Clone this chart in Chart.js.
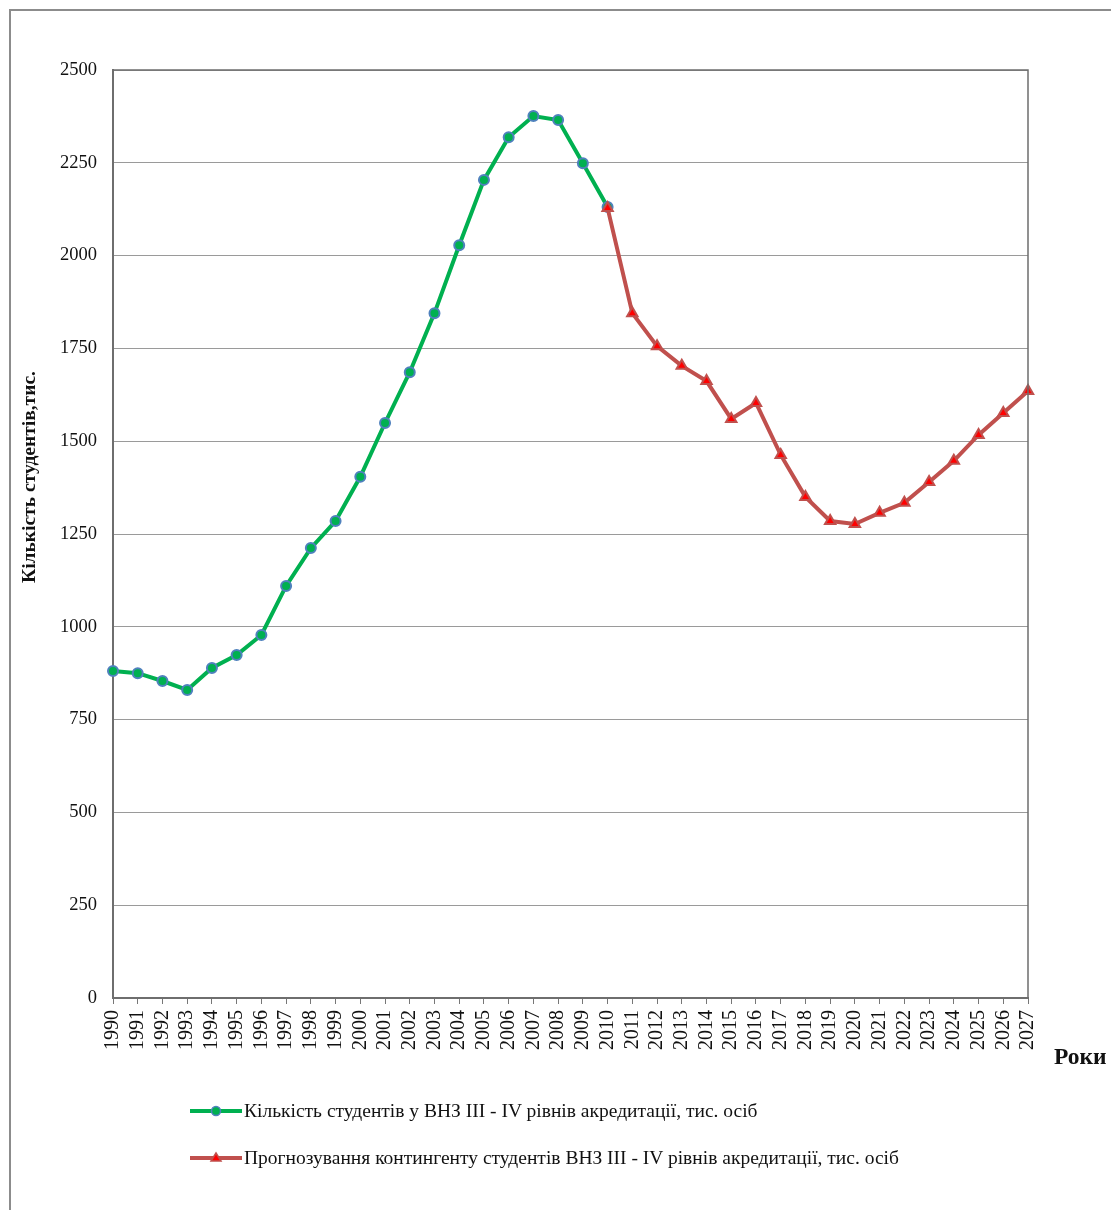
<!DOCTYPE html>
<html><head><meta charset="utf-8">
<script src="https://cdn.jsdelivr.net/npm/chart.js@4/dist/chart.umd.min.js"></script>
<style>
html,body{margin:0;padding:0;background:#fff;width:1111px;height:1210px;overflow:hidden;}
#frame{position:absolute;left:9px;top:9px;width:1130px;height:1230px;border:2px solid #8c8c8c;box-sizing:border-box;}
#c{position:absolute;left:0;top:0;}
.leg{position:absolute;left:190px;font-family:"Liberation Serif","Times New Roman",serif;font-size:19.5px;color:#111;display:flex;align-items:center;white-space:nowrap;}
.leg svg{margin-right:2px;}
</style></head><body>
<div id="frame"></div>
<canvas id="c" width="1111" height="1210"></canvas>
<div class="leg" style="top:1100px"><svg width="52" height="14"><line x1="0" y1="7" x2="52" y2="7" stroke="#00b050" stroke-width="4"/><circle cx="26" cy="7" r="4.5" fill="#00b050" stroke="#4f81bd" stroke-width="1.5"/></svg><span id="l1"></span></div>
<div class="leg" style="top:1147px"><svg width="52" height="14"><line x1="0" y1="7" x2="52" y2="7" stroke="#c0504d" stroke-width="4"/><polygon points="26,2 31,10 21,10" fill="#ff0000" stroke="#c0504d" stroke-width="1.5"/></svg><span id="l2"></span></div>
<script>
const years = ["1990","1991","1992","1993","1994","1995","1996","1997","1998","1999","2000","2001","2002","2003","2004","2005","2006","2007","2008","2009","2010","2011","2012","2013","2014","2015","2016","2017","2018","2019","2020","2021","2022","2023","2024","2025","2026","2027"];
const actual = [881,875,854,830,889,924,978,1110,1212,1285,1404,1549,1686,1845,2028,2204,2319,2376,2365,2249,2131];
const forecast = [2128,1845,1756,1703,1662,1560,1603,1463,1350,1285,1277,1307,1334,1390,1447,1517,1576,1635];
const forecastStart = 20;
const yTicks = [0,250,500,750,1000,1250,1500,1750,2000,2250,2500];
const label1 = "Кількість студентів у ВНЗ III - IV рівнів акредитації, тис. осіб";
const label2 = "Прогнозування контингенту студентів ВНЗ III - IV рівнів акредитації, тис. осіб";
const yTitle = "Кількість студентів,тис.";
const xTitle = "Роки";

document.getElementById('l1').textContent = label1;
document.getElementById('l2').textContent = label2;

const actualData = years.map((y,i)=> i < actual.length ? actual[i] : null);
const forecastData = years.map((y,i)=> i >= forecastStart ? forecast[i-forecastStart] : null);
const serif = '"Liberation Serif","Times New Roman",serif';

const extras = {
  id:'extras',
  afterDraw(chart){
    const {ctx, chartArea:a} = chart;
    ctx.save();
    ctx.strokeStyle = '#6e6e6e'; ctx.lineWidth = 1.5;
    ctx.beginPath();
    ctx.moveTo(a.left, a.top); ctx.lineTo(a.right, a.top); ctx.lineTo(a.right, a.bottom);
    ctx.stroke();
    ctx.fillStyle = '#111';
    ctx.font = 'bold 19.5px ' + serif;
    ctx.translate(30, 477); ctx.rotate(-Math.PI/2);
    ctx.textAlign = 'center'; ctx.textBaseline = 'middle';
    ctx.fillText(yTitle, 0, 0);
    ctx.restore();
    ctx.save();
    ctx.fillStyle = '#111';
    ctx.font = 'bold 23.5px ' + serif;
    ctx.textAlign = 'left'; ctx.textBaseline = 'middle';
    ctx.fillText(xTitle, 1054, 1058);
    ctx.restore();
  }
};

new Chart(document.getElementById('c'), {
  type:'line',
  data:{labels:years, datasets:[
    {label:label2, data:forecastData, borderColor:'#c0504d', borderWidth:4, pointStyle:'triangle', pointRadius:6, pointBackgroundColor:'#ff0000', pointBorderColor:'#c0504d', pointBorderWidth:2, tension:0, spanGaps:false},
    {label:label1, data:actualData, borderColor:'#00b050', borderWidth:4, pointStyle:'circle', pointRadius:5, pointBackgroundColor:'#00b050', pointBorderColor:'#4f81bd', pointBorderWidth:2, tension:0}
  ]},
  options:{
    responsive:false, animation:false,
    layout:{padding:{left:0, top:70, right:83, bottom:0}},
    plugins:{legend:{display:false}, tooltip:{enabled:false}},
    scales:{
      x:{
        type:'category', offset:false,
        afterFit(s){ s.height = 212; },
        grid:{drawOnChartArea:false, drawTicks:true, tickLength:6, color:'#777'},
        border:{color:'#6e6e6e', width:2},
        ticks:{autoSkip:false, maxRotation:90, minRotation:90, color:'#111', font:{family:serif, size:20}, padding:6}
      },
      y:{
        min:0, max:2500,
        afterFit(s){ s.width = 113; },
        afterBuildTicks(s){ s.ticks = yTicks.map(v=>({value:v})); },
        grid:{color:'#9a9a9a', lineWidth:1, drawTicks:false},
        border:{color:'#6e6e6e', width:2},
        ticks:{color:'#111', font:{family:serif, size:18.5}, padding:16, callback:(v)=>String(v)}
      }
    }
  },
  plugins:[extras]
});
</script>
</body></html>
